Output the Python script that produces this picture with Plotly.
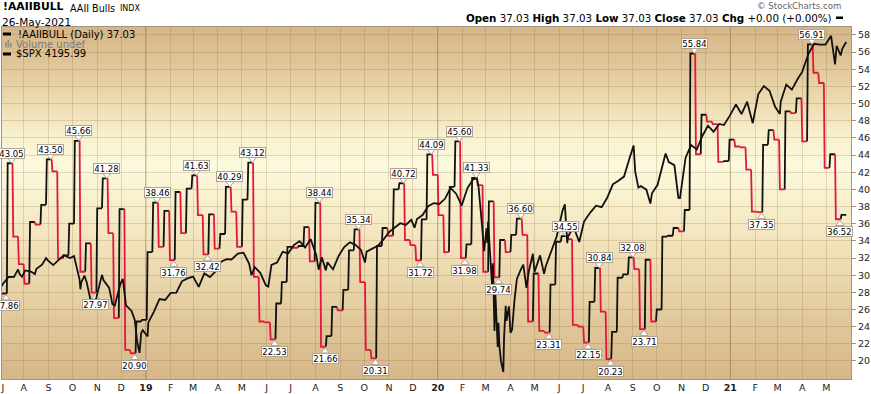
import numpy as np
import pandas as pd
import plotly.graph_objects as go

# ---------------- data ----------------
bull_start = "2018-07-05"          # first weekly AAII reading shown (Thursdays)
last_date = "2021-05-26"
bulls = [
    # 2018
    27.86, 43.05, 34.5, 31.3,
    29.0, 36.2, 35.9, 38.2, 43.50,
    42.1, 31.97, 32.3, 36.0,
    45.66, 30.4, 33.7, 27.97,
    37.8, 41.28, 34.9, 25.0, 37.7,
    21.3, 20.90, 24.6, 24.8,
    # 2019
    32.7, 38.46, 33.3, 37.5, 31.76,
    39.7, 34.9, 40.1, 41.63,
    37.0, 32.42, 37.1, 33.1,
    34.8, 40.29, 37.4, 33.3,
    38.8, 43.12, 29.8, 24.6, 24.5,
    22.53, 26.7, 29.2, 33.3,
    33.2, 33.4, 35.6, 31.6,
    38.44, 21.66, 22.9, 26.3, 25.9,
    28.3, 32.9, 35.34, 29.2,
    21.3, 20.31, 33.4, 35.5, 34.6,
    40.0, 40.72, 34.1, 33.5,
    31.72, 36.5, 44.09, 41.7,
    # 2020
    37.0, 32.7, 40.3, 45.60, 31.98,
    33.6, 41.33, 40.5, 30.4,
    38.6, 29.74, 34.1, 32.7,
    34.7, 36.60, 34.7, 24.6, 30.2,
    23.5, 23.31, 28.9, 33.9,
    34.55, 34.2, 24.2, 24.0,
    22.15, 26.9, 30.84, 25.75, 20.23,
    23.4, 29.7, 30.1, 32.08,
    30.7, 23.71, 31.8, 24.6,
    26.0, 34.5, 34.6, 35.5, 35.1,
    37.6, 55.84, 44.1, 48.7,
    47.9, 47.6, 43.2, 43.3, 45.8,
    # 2021
    45.0, 44.9, 42.3, 37.4,
    37.35, 45.2, 46.9, 45.8,
    40.0, 49.1, 48.9, 50.6,
    45.6, 56.91, 53.6, 52.4, 42.5,
    44.1, 36.52, 37.03,
]
peak_values = [43.05, 43.50, 45.66, 41.28, 38.46, 41.63, 40.29, 43.12, 38.44, 35.34,
               40.72, 44.09, 45.60, 41.33, 36.60, 34.55, 30.84, 32.08, 55.84, 56.91]
trough_values = [27.86, 27.97, 20.90, 31.76, 32.42, 22.53, 21.66, 20.31, 31.72, 31.98,
                 29.74, 23.31, 22.15, 20.23, 23.71, 37.35, 36.52]

spx_dates = [
    "2018-07-02", "2018-07-06", "2018-07-13", "2018-07-20", "2018-07-25", "2018-07-27", "2018-07-30",
    "2018-08-03", "2018-08-10", "2018-08-15", "2018-08-17", "2018-08-24", "2018-08-29", "2018-08-31",
    "2018-09-07", "2018-09-14", "2018-09-20", "2018-09-21", "2018-09-28", "2018-10-03", "2018-10-05",
    "2018-10-10", "2018-10-11", "2018-10-12", "2018-10-16", "2018-10-19", "2018-10-24", "2018-10-26",
    "2018-10-29", "2018-11-02", "2018-11-07", "2018-11-09", "2018-11-16", "2018-11-20", "2018-11-23",
    "2018-11-30", "2018-12-03", "2018-12-07", "2018-12-14", "2018-12-18", "2018-12-21", "2018-12-24",
    "2018-12-26", "2018-12-28",
    "2019-01-03", "2019-01-04", "2019-01-11", "2019-01-18", "2019-01-25", "2019-02-01", "2019-02-08",
    "2019-02-15", "2019-02-22", "2019-03-01", "2019-03-08", "2019-03-15", "2019-03-22", "2019-03-29",
    "2019-04-05", "2019-04-12", "2019-04-18", "2019-04-26", "2019-04-30", "2019-05-03", "2019-05-10",
    "2019-05-13", "2019-05-17", "2019-05-24", "2019-05-31", "2019-06-03", "2019-06-07", "2019-06-14",
    "2019-06-21", "2019-06-28", "2019-07-05", "2019-07-12", "2019-07-19", "2019-07-26", "2019-08-02",
    "2019-08-05", "2019-08-09", "2019-08-14", "2019-08-16", "2019-08-23", "2019-08-30", "2019-09-06",
    "2019-09-13", "2019-09-20", "2019-09-27", "2019-10-02", "2019-10-04", "2019-10-11", "2019-10-18",
    "2019-10-25", "2019-11-01", "2019-11-08", "2019-11-15", "2019-11-22", "2019-11-29", "2019-12-03",
    "2019-12-06", "2019-12-13", "2019-12-20", "2019-12-27",
    "2020-01-03", "2020-01-10", "2020-01-17", "2020-01-24", "2020-01-31", "2020-02-07", "2020-02-14",
    "2020-02-19", "2020-02-21", "2020-02-25", "2020-02-27", "2020-02-28", "2020-03-02", "2020-03-03",
    "2020-03-04", "2020-03-06", "2020-03-09", "2020-03-10", "2020-03-12", "2020-03-13", "2020-03-16",
    "2020-03-17", "2020-03-18", "2020-03-20", "2020-03-23", "2020-03-24", "2020-03-26", "2020-03-27",
    "2020-03-30", "2020-04-01", "2020-04-03", "2020-04-06", "2020-04-09", "2020-04-14", "2020-04-17",
    "2020-04-21", "2020-04-24", "2020-04-29", "2020-05-01", "2020-05-08", "2020-05-13", "2020-05-15",
    "2020-05-22", "2020-05-29", "2020-06-05", "2020-06-08", "2020-06-11", "2020-06-12", "2020-06-19",
    "2020-06-26", "2020-07-02", "2020-07-10", "2020-07-17", "2020-07-24", "2020-07-31", "2020-08-07",
    "2020-08-14", "2020-08-21", "2020-08-28", "2020-09-02", "2020-09-04", "2020-09-08", "2020-09-11",
    "2020-09-18", "2020-09-23", "2020-09-25", "2020-10-02", "2020-10-09", "2020-10-12", "2020-10-16",
    "2020-10-23", "2020-10-28", "2020-10-30", "2020-11-06", "2020-11-13", "2020-11-20", "2020-11-27",
    "2020-12-04", "2020-12-11", "2020-12-18", "2020-12-24", "2020-12-31",
    "2021-01-08", "2021-01-15", "2021-01-22", "2021-01-27", "2021-01-29", "2021-02-05", "2021-02-12",
    "2021-02-19", "2021-02-25", "2021-02-26", "2021-03-04", "2021-03-05", "2021-03-12", "2021-03-19",
    "2021-03-26", "2021-04-01", "2021-04-09", "2021-04-16", "2021-04-23", "2021-04-30", "2021-05-07",
    "2021-05-12", "2021-05-14", "2021-05-19", "2021-05-21", "2021-05-26",
]
spx_close = [
    2726.71, 2759.82, 2801.31, 2801.83, 2846.07, 2818.82, 2802.60,
    2840.35, 2833.28, 2818.37, 2850.13, 2874.69, 2914.04, 2901.52,
    2871.68, 2904.98, 2930.75, 2929.67, 2913.98, 2925.51, 2885.57,
    2785.68, 2728.37, 2767.13, 2809.92, 2767.78, 2656.10, 2658.69,
    2641.25, 2723.06, 2813.89, 2781.01, 2736.27, 2641.89, 2632.56,
    2760.17, 2790.37, 2633.08, 2599.95, 2546.16, 2416.62, 2351.10,
    2467.70, 2485.74,
    2447.89, 2531.94, 2596.26, 2670.71, 2664.76, 2706.53, 2707.88,
    2775.60, 2792.67, 2803.69, 2743.07, 2822.48, 2800.71, 2834.40,
    2892.74, 2907.41, 2905.03, 2939.88, 2945.83, 2945.64, 2881.40,
    2811.87, 2859.53, 2826.06, 2752.06, 2744.45, 2873.34, 2886.98,
    2950.46, 2941.76, 2990.41, 3013.77, 2976.61, 3025.86, 2932.05,
    2844.74, 2918.65, 2840.60, 2888.68, 2847.11, 2926.46, 2978.71,
    3007.39, 2992.07, 2961.79, 2887.61, 2952.01, 2970.27, 2986.20,
    3022.55, 3066.91, 3093.08, 3120.46, 3110.29, 3140.98, 3093.20,
    3145.91, 3168.80, 3221.22, 3240.02,
    3234.85, 3265.35, 3329.62, 3295.47, 3225.52, 3327.71, 3380.16,
    3386.15, 3337.75, 3128.21, 2978.76, 2954.22, 3090.23, 3003.37,
    3130.12, 2972.37, 2746.56, 2882.23, 2480.64, 2711.02, 2386.13,
    2529.19, 2398.10, 2304.92, 2237.40, 2447.33, 2630.07, 2541.47,
    2626.65, 2470.50, 2488.65, 2663.68, 2789.82, 2846.06, 2874.56,
    2736.56, 2836.74, 2939.51, 2830.71, 2929.80, 2820.00, 2863.70,
    2955.45, 3044.31, 3193.93, 3232.39, 3002.10, 3041.31, 3097.74,
    3009.05, 3130.01, 3185.04, 3224.73, 3215.63, 3271.12, 3351.28,
    3372.85, 3397.16, 3508.01, 3580.84, 3426.96, 3331.84, 3340.97,
    3319.47, 3236.92, 3298.46, 3348.44, 3477.13, 3534.22, 3483.81,
    3465.39, 3271.03, 3269.96, 3509.44, 3585.15, 3557.54, 3638.35,
    3699.12, 3663.46, 3709.41, 3703.06, 3756.07,
    3824.68, 3768.25, 3841.47, 3750.77, 3714.24, 3886.83, 3934.83,
    3906.71, 3829.34, 3811.15, 3768.47, 3841.94, 3943.34, 3913.10,
    3974.54, 4019.87, 4128.80, 4185.47, 4180.17, 4181.17, 4232.60,
    4063.04, 4173.85, 4115.68, 4155.86, 4195.99,
]
bull_ticks = list(range(20, 59, 2))

# ---------------- geometry / style ----------------
W, H = 871, 394
M = dict(l=1, r=19, t=27, b=15)
PW, PH = W - M["l"] - M["r"], H - M["t"] - M["b"]
FONT = "DejaVu Sans"
RED, BLACK = "#e3173e", "#111111"
FRAME = "#a39383"
GRID = "rgba(140,100,50,0.22)"


def px_x(x):
    return (x - M["l"]) / PW


def px_y(y):
    return (H - M["b"] - y) / PH


anchor = pd.Timestamp("2019-01-01")
ppd = 0.8013                       # pixels per calendar day
x0 = anchor - pd.Timedelta(days=(145.3 - M["l"]) / ppd)
x1 = anchor + pd.Timedelta(days=(W - M["r"] - 145.3) / ppd)

# ---------------- AAII step line, coloured by direction ----------------
one_day = pd.Timedelta(days=1)
bull_dates = pd.date_range(bull_start, periods=len(bulls), freq="7D")
seg_end = list(bull_dates[1:] - one_day) + [pd.Timestamp(last_date)]
lines = {"up": ([], []), "down": ([], [])}
for i, v in enumerate(bulls):
    if i == 0:
        sx, sy, key = [bull_dates[0] - one_day, seg_end[0]], [v, v], "up"
    else:
        sx = [bull_dates[i] - one_day, bull_dates[i], seg_end[i]]
        sy = [bulls[i - 1], v, v]
        key = "down" if v < bulls[i - 1] else "up"
    lines[key][0].extend(sx + [None])
    lines[key][1].extend(sy + [None])

fig = go.Figure()
fig.add_trace(go.Scatter(x=pd.to_datetime(spx_dates), y=spx_close, yaxis="y2", mode="lines",
                         line=dict(color=BLACK, width=1.8), hoverinfo="skip"))
fig.add_trace(go.Scatter(x=lines["up"][0], y=lines["up"][1], mode="lines",
                         line=dict(color=BLACK, width=1.8), hoverinfo="skip"))
fig.add_trace(go.Scatter(x=lines["down"][0], y=lines["down"][1], mode="lines",
                         line=dict(color=RED, width=1.8), hoverinfo="skip"))

# ---------------- peak / trough call-outs ----------------
units_per_px = (58.93 - 17.90) / PH
annotations = []
tip_x, tip_y, tip_sym = [], [], []
for vals, is_peak in ((peak_values, True), (trough_values, False)):
    for v in vals:
        i = bulls.index(v)
        xd = bull_dates[i] + pd.Timedelta(days=5)
        annotations.append(dict(
            x=xd, y=v, xref="x", yref="y", text=f"{v:.2f}", showarrow=False,
            yshift=10 if is_peak else -12, font=dict(family=FONT, size=8.5, color="#000"),
            bgcolor="#ffffff", bordercolor="#b3a395", borderwidth=1, borderpad=0,
            width=25, height=9))
        tip_x.append(xd)
        tip_y.append(v + (3.5 if is_peak else -4.5) * units_per_px)
        tip_sym.append("triangle-down" if is_peak else "triangle-up")
fig.add_trace(go.Scatter(x=tip_x, y=tip_y, mode="markers", hoverinfo="skip",
                         marker=dict(symbol=tip_sym, size=7, color="#ffffff",
                                     line=dict(color="#b3a395", width=1))))

# ---------------- header & legend text ----------------
def txt(x, y, text, size, anchor="left", color="#000", family=FONT):
    annotations.append(dict(x=px_x(x), y=px_y(y), xref="paper", yref="paper", text=text,
                            showarrow=False, xanchor=anchor, yanchor="middle",
                            font=dict(family=family, size=size, color=color)))

last_val = f"{bulls[-1]:.2f}"
txt(0, 7, "<b>!AAIIBULL</b>", 10.8)
txt(67, 8, "AAII Bulls", 9.6)
txt(117, 8.5, "INDX", 8)
txt(-1, 21.5, "26-May-2021", 10.5)
txt(844, 6, "© StockCharts.com", 8.6, anchor="right", color="#666666")
txt(835, 18, f"<b>Open</b> {last_val} <b>High</b> {last_val} <b>Low</b> {last_val} "
             f"<b>Close</b> {last_val} <b>Chg</b> +0.00 (+0.00%)", 10.3, anchor="right")
txt(15, 34, f"!AAIIBULL (Daily) {last_val}", 10)
txt(13, 44, "Volume undef", 10, color="#7a7a7a")
txt(13, 54, f"$SPX {spx_close[-1]:.2f}", 10)

# ---------------- background gradient & decorations ----------------
shapes = []
stops_y = [27, 60, 100, 135, 165, 200, 250, 300, 340, 379]
rs = [213, 222, 236, 248, 252, 248, 240, 229, 220, 213]
gs = [182, 196, 218, 240, 249, 240, 225, 207, 194, 182]
bs = [136, 150, 175, 205, 222, 205, 185, 163, 148, 136]
band = 4
for yy in range(M["t"], H - M["b"], band):
    yc = yy + band / 2
    c = tuple(int(round(np.interp(yc, stops_y, ch))) for ch in (rs, gs, bs))
    shapes.append(dict(type="rect", xref="paper", yref="paper", x0=0, x1=1,
                       y0=px_y(min(yy + band, H - M["b"])), y1=px_y(yy),
                       fillcolor=f"rgb{c}", line=dict(width=0), layer="below"))
for yr in ("2019-01-01", "2020-01-01", "2021-01-01"):
    shapes.append(dict(type="line", xref="x", yref="paper", x0=yr, x1=yr, y0=0, y1=1,
                       line=dict(color="rgba(120,85,45,0.35)", width=1), layer="below"))
# legend glyphs
shapes.append(dict(type="rect", xref="paper", yref="paper", x0=px_x(2), x1=px_x(10),
                   y0=px_y(35.5), y1=px_y(32.5), fillcolor="#000", line=dict(width=0)))
shapes.append(dict(type="rect", xref="paper", yref="paper", x0=px_x(2), x1=px_x(10),
                   y0=px_y(55.5), y1=px_y(52.5), fillcolor="#000", line=dict(width=0)))
for bx, top in ((4, 42.5), (6.5, 40), (9, 43)):
    shapes.append(dict(type="rect", xref="paper", yref="paper", x0=px_x(bx), x1=px_x(bx + 1.6),
                       y0=px_y(47.5), y1=px_y(top), fillcolor="#8a8a8a", line=dict(width=0)))
shapes.append(dict(type="rect", xref="paper", yref="paper", x0=px_x(837), x1=px_x(844),
                   y0=px_y(19), y1=px_y(16.5), fillcolor="#000", line=dict(width=0)))

# ---------------- axes ----------------
months = pd.date_range("2018-07-01", "2021-05-01", freq="MS")
tickvals = [max(m, x0 + one_day) for m in months]
ticktext = [f"<b>{m:%y}</b>" if m.month == 1 else "JFMAMJJASOND"[m.month - 1] for m in months]

fig.update_layout(
    width=W, height=H, margin=M, showlegend=False,
    paper_bgcolor="#ffffff", plot_bgcolor="rgb(213,182,136)",
    annotations=annotations, shapes=shapes,
    xaxis=dict(type="date", range=[x0, x1], tickvals=tickvals, ticktext=ticktext,
               showgrid=True, gridcolor=GRID, gridwidth=1, zeroline=False,
               showline=True, linecolor=FRAME, linewidth=1, mirror=True, ticks="",
               tickfont=dict(family=FONT, size=9.5, color="#222")),
    yaxis=dict(range=[17.90, 58.93], side="right", tickvals=bull_ticks,
               showgrid=True, gridcolor=GRID, gridwidth=1, zeroline=False,
               showline=True, linecolor=FRAME, linewidth=1, mirror=True,
               ticks="outside", ticklen=4, tickcolor=FRAME,
               tickfont=dict(family=FONT, size=9.5, color="#222")),
    yaxis2=dict(overlaying="y", range=[2195.9, 4285.0], visible=False),
)

fig.write_html("out.html", config={"displayModeBar": False},
               post_script="document.body.style.margin='0px';document.body.style.overflow='hidden';")
